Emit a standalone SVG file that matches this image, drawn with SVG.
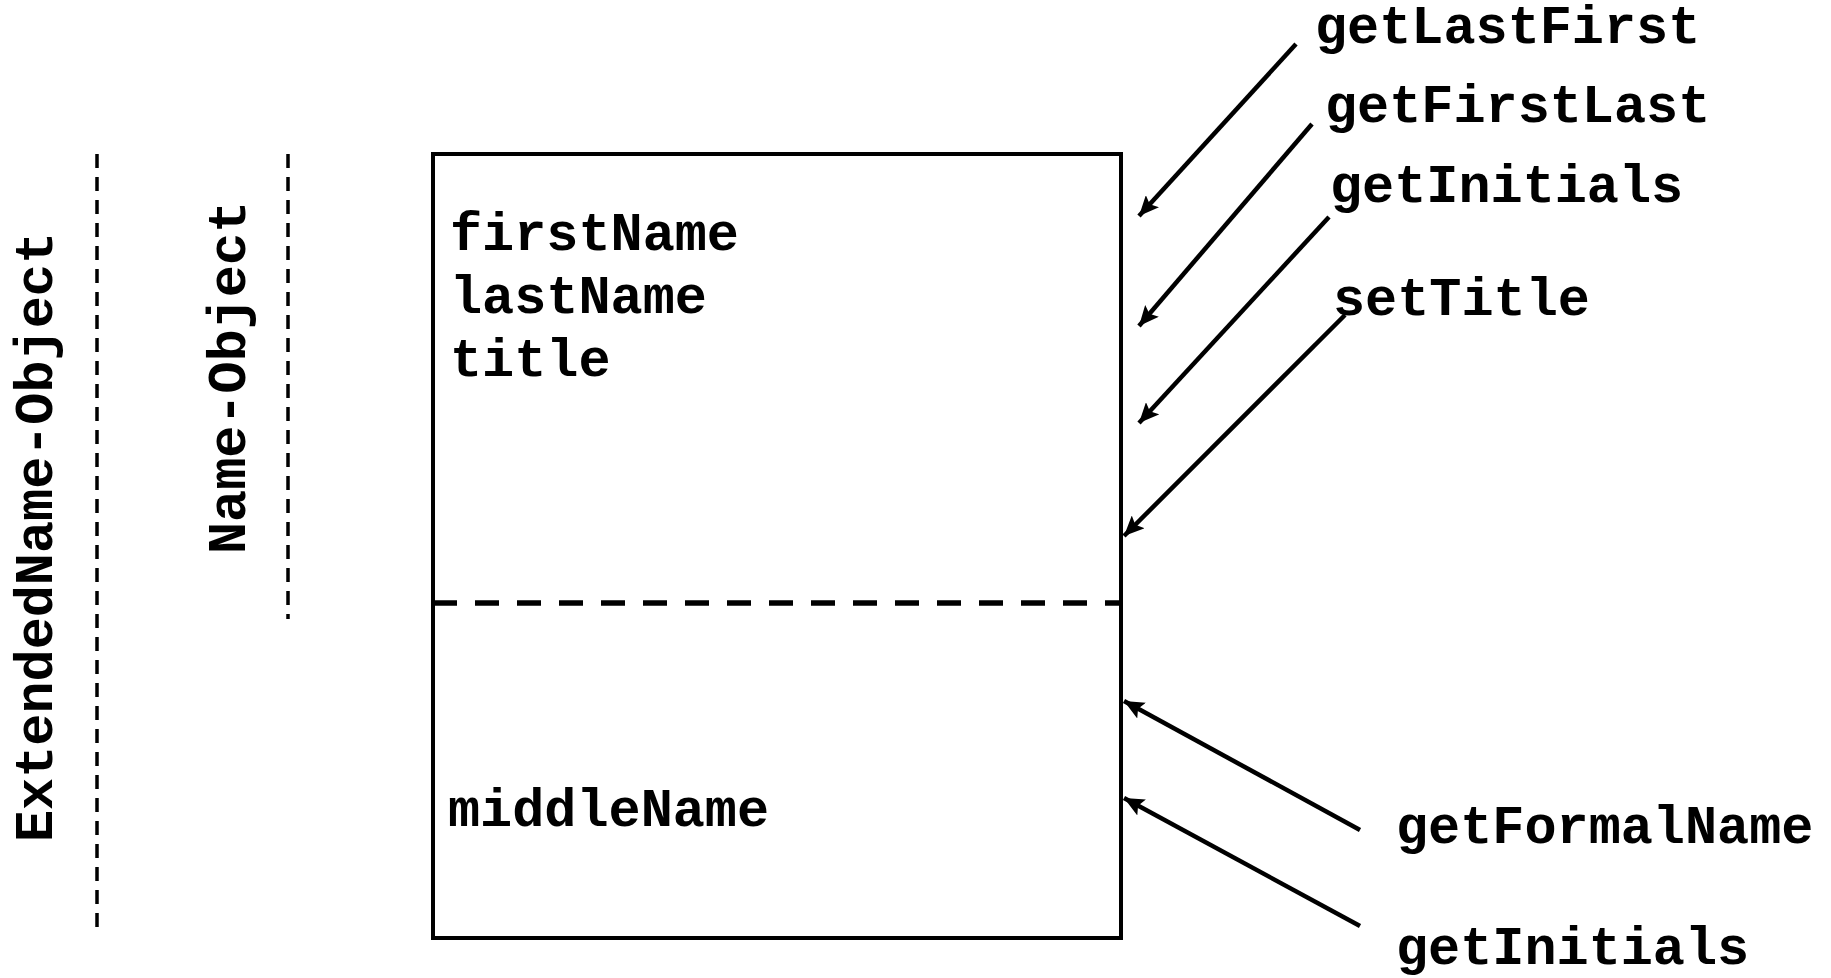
<svg xmlns="http://www.w3.org/2000/svg" width="1831" height="978" viewBox="0 0 1831 978">
<style>
text{font-family:"Liberation Mono","Courier New",monospace;font-weight:bold;font-size:53.5px;fill:#000}
.box{fill:#fff;stroke:#000;stroke-width:4}
.sep{stroke:#000;stroke-width:5.5;stroke-dasharray:24 18;fill:none}
.vdash{stroke:#000;stroke-width:3.5;stroke-dasharray:14 9;fill:none}
.arr{stroke:#000;stroke-width:4.5;fill:none;marker-end:url(#ah)}
</style>
<defs>
<marker id="ah" markerUnits="userSpaceOnUse" markerWidth="22" markerHeight="18" refX="20" refY="9" orient="auto">
<path d="M0,0 L20,9 L0,18 L4,9 z" fill="#000"/>
</marker>
</defs>
<rect width="1831" height="978" fill="#fff"/>
<g id="scope-extended">
<line class="vdash" x1="97" y1="154" x2="97" y2="928"/>
<text transform="translate(52,842) rotate(-90)">ExtendedName-Object</text>
</g>
<g id="scope-name">
<line class="vdash" x1="288" y1="154" x2="288" y2="619"/>
<text transform="translate(245,554) rotate(-90)">Name-Object</text>
</g>
<g id="object">
<rect class="box" x="433" y="154" width="688" height="784"/>
<line class="sep" x1="433" y1="603" x2="1121" y2="603"/>
<text x="450" y="250">firstName</text>
<text x="450" y="313">lastName</text>
<text x="450" y="376">title</text>
<text x="448" y="826">middleName</text>
</g>
<g id="methods">
<text x="1315" y="43">getLastFirst</text>
<text x="1325" y="122">getFirstLast</text>
<text x="1330" y="202">getInitials</text>
<text x="1333" y="315">setTitle</text>
<text x="1396" y="843">getFormalName</text>
<text x="1396" y="964">getInitials</text>
</g>
<g id="connectors">
<line class="arr" x1="1296" y1="44" x2="1139" y2="216"/>
<line class="arr" x1="1312" y1="124" x2="1139" y2="326"/>
<line class="arr" x1="1329" y1="217" x2="1139" y2="423"/>
<line class="arr" x1="1345" y1="315" x2="1124" y2="536"/>
<line class="arr" x1="1360" y1="830" x2="1124" y2="701"/>
<line class="arr" x1="1360" y1="926" x2="1124" y2="798"/>
</g>
</svg>
